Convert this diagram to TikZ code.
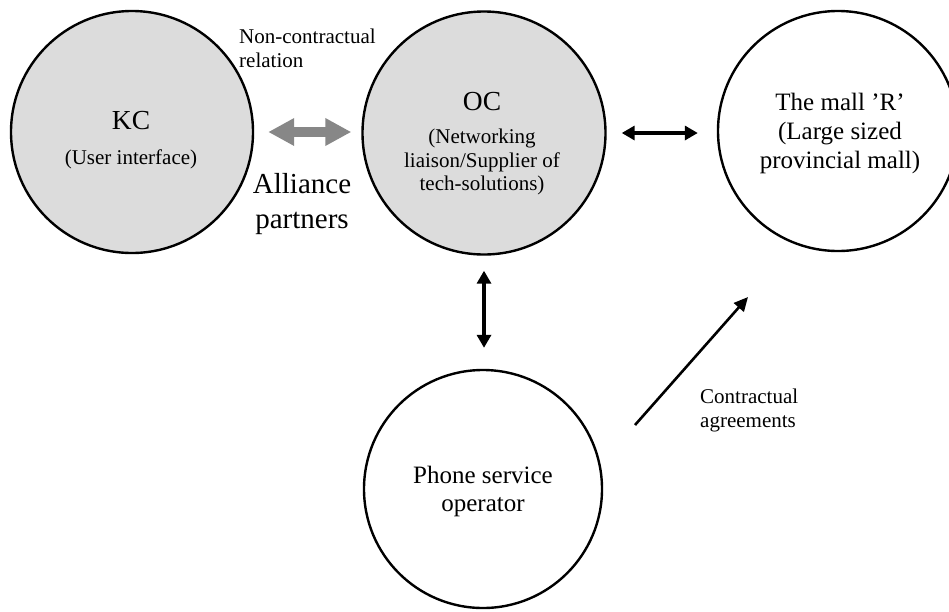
\documentclass[tikz,border=0pt]{standalone}
\usepackage{fontspec}
\setmainfont{Liberation Serif}
\usetikzlibrary{arrows.meta}
\definecolor{bubblegray}{HTML}{DCDCDC}
\definecolor{arrowgray}{HTML}{878787}
\begin{document}
\begin{tikzpicture}[x=1pt,y=-1pt,
  bubble/.style={circle, draw=black, line width=2.4pt, inner sep=0pt, fill=white},
  graybubble/.style={bubble, fill=bubblegray},
  txt/.style={anchor=base, inner sep=0pt},
  txtl/.style={anchor=base west, inner sep=0pt},
  bigfont/.style={font=\fontsize{27.5}{30}\selectfont},
  midfont/.style={font=\fontsize{25}{28}\selectfont},
  smallfont/.style={font=\fontsize{21}{24}\selectfont},
  allfont/.style={font=\fontsize{29}{32}\selectfont},
  grayarrow/.style={draw=arrowgray, line width=10pt, {Triangle[length=26pt,width=26pt]}-{Triangle[length=26pt,width=26pt]}},
  blackarrow/.style={draw=black, line width=3.5pt, {Triangle[length=13pt,width=14pt]}-{Triangle[length=13pt,width=14pt]}},
  onearrow/.style={draw=black, line width=2.6pt, -{Triangle[length=14pt,width=13pt]}},
]
\useasboundingbox (0,0) rectangle (949,611);
\begin{scope}
\clip (0,0) rectangle (949,611);
\node[graybubble, minimum size=242pt] (kc) at (132,132) {};
\node[graybubble, minimum size=243pt] (oc) at (484,133) {};
\node[bubble, minimum size=240pt] (mall) at (838,131) {};
\node[bubble, minimum size=238pt] (phone) at (483,489) {};
\end{scope}

% texts
\node[txt, bigfont] (kct) at (131,129) {KC};
\node[txt, smallfont] (kcs) at (131,164) {(User interface)};

\node[txt, bigfont] (oct) at (482,110) {OC};
\node[txt, smallfont] (ocs1) at (482,143) {(Networking};
\node[txt, smallfont] (ocs2) at (482,167) {liaison/Supplier of};
\node[txt, smallfont] (ocs3) at (482,190) {tech-solutions)};

\node[txt, midfont] (mall1) at (840,110) {The mall ’R’};
\node[txt, midfont] (mall2) at (840,139) {(Large sized};
\node[txt, midfont] (mall3) at (840,168) {provincial mall)};

\node[txt, midfont] (ph1) at (483,483) {Phone service};
\node[txt, midfont] (ph2) at (483,511) {operator};

\node[txtl, smallfont] (nc1) at (239,43) {Non-contractual};
\node[txtl, smallfont] (nc2) at (239,67) {relation};

\node[txt, allfont] (al1) at (302,193) {Alliance};
\node[txt, allfont] (al2) at (302,228) {partners};

\node[txtl, smallfont] (ct1) at (700,403) {Contractual};
\node[txtl, smallfont] (ct2) at (700,427) {agreements};

% connectors
\draw[grayarrow, shorten <=14pt, shorten >=10pt] (kc.east) -- (kc.east -| oc.west);
\draw[blackarrow, shorten <=15pt, shorten >=19pt] (oc.east) -- (oc.east -| mall.west);
\draw[blackarrow, shorten <=15pt, shorten >=21pt] (oc.south) -- (oc.south |- phone.north);
\coordinate (ca) at (635,425);
\coordinate (cb) at (748,297);
\draw[onearrow] (ca) -- (cb);
\end{tikzpicture}
\end{document}
